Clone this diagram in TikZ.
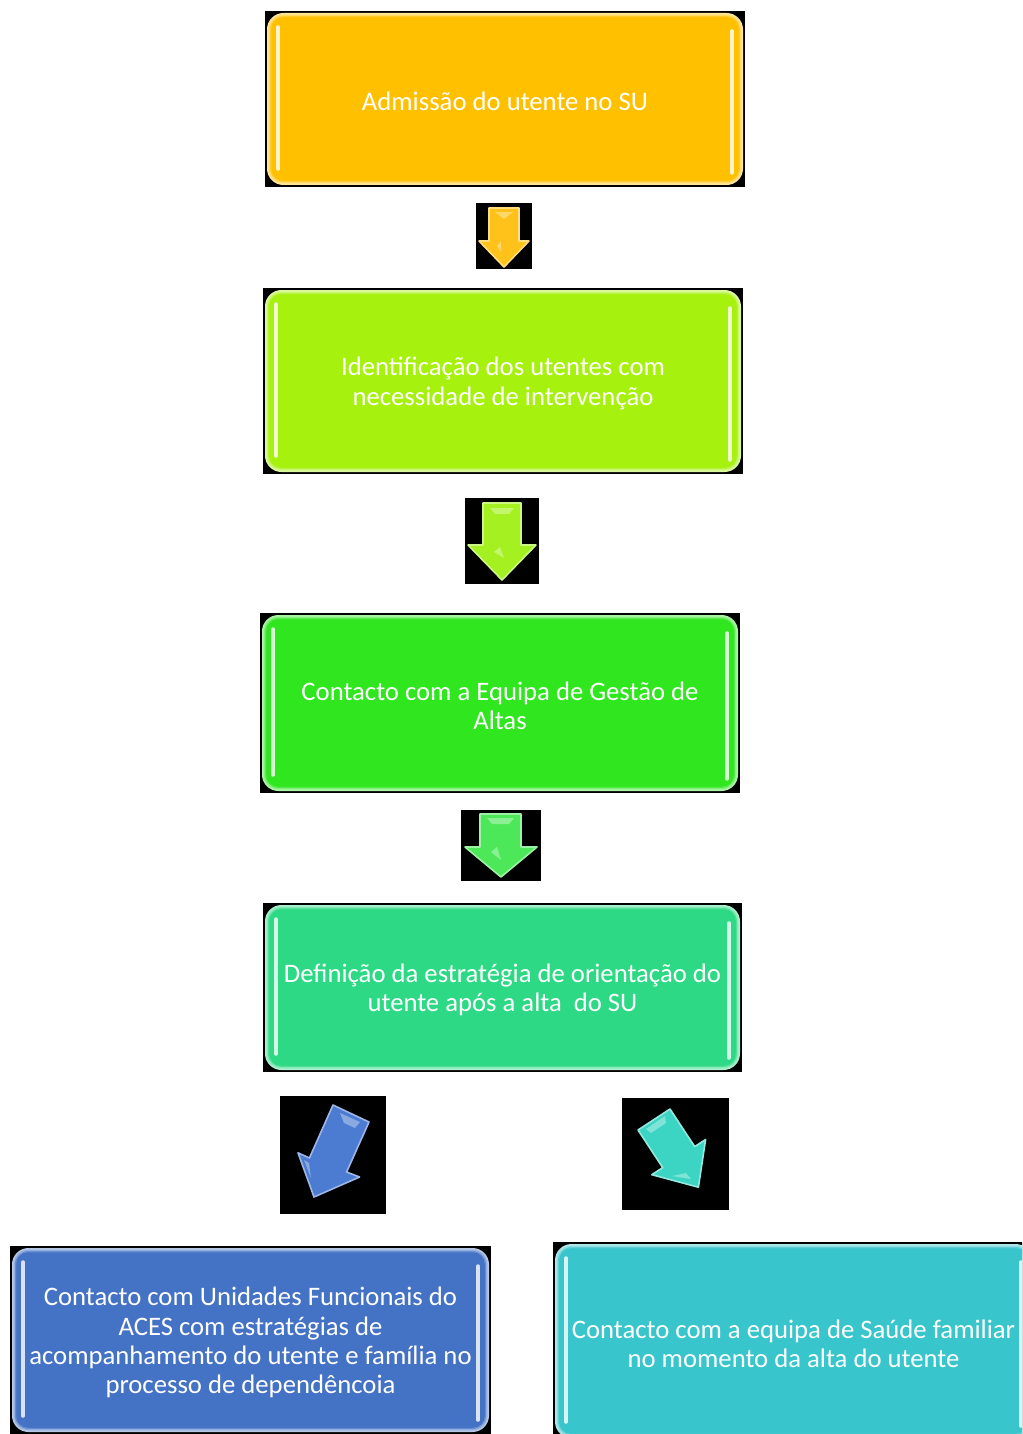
\documentclass[tikz,border=0pt]{standalone}
\usepackage{fontspec}
\setmainfont{Carlito}
\usetikzlibrary{calc}
\definecolor{cOne}{HTML}{FFC000}
\definecolor{cTwo}{HTML}{A6F10E}
\definecolor{cThree}{HTML}{2FE61F}
\definecolor{cFour}{HTML}{2DD984}
\definecolor{cFive}{HTML}{4472C4}
\definecolor{cSix}{HTML}{38C5CC}
\definecolor{aOne}{HTML}{FFC21A}
\definecolor{aTwo}{HTML}{A4F020}
\definecolor{aThree}{HTML}{4DE85A}
\definecolor{aFour}{HTML}{4C7BD2}
\definecolor{aFive}{HTML}{3CD5C3}
\tikzset{
  flowbox/.style={rounded corners=15bp, line width=3bp, inner sep=0pt},
  boxtext/.style={text=white, font=\fontsize{26.8}{29.3}\selectfont, align=center, inner sep=0pt},
  hiline/.style={line width=3.5bp, line cap=round, opacity=0.95},
  arrowbody/.style={line width=1.6bp, line join=round},
  shine/.style={white, opacity=0.35},
}
\newcommand\flowbox[7]{%
  \fill[black] (#2,#3) rectangle (#4,#5);
  \node[flowbox, fill=#6, draw=#6!40!white,
        minimum width={(#4-#2-7)*1bp}, minimum height={(#5-#3-7)*1bp}]
        (#1) at ($(#2,#3)!0.5!(#4,#5)$) {};
  \draw[rounded corners=13bp, line width=2.5bp, #6!70!white, opacity=0.6]
    ([xshift=3bp,yshift=-3bp]#1.north west) rectangle ([xshift=-3bp,yshift=3bp]#1.south east);
  \draw[hiline, #6!15!white] ([xshift=11bp,yshift=-14bp]#1.north west) -- ([xshift=11bp,yshift=16bp]#1.south west);
  \draw[hiline, #6!15!white] ([xshift=-11bp,yshift=-18bp]#1.north east) -- ([xshift=-11bp,yshift=12bp]#1.south east);
  \node[boxtext] (#1t) at ([yshift=-2.5bp]#1.center) {#7};
}
\begin{document}
\begin{tikzpicture}[x=1bp,y=-1bp]
\clip (0,0) rectangle (1022,1434);
\fill[white] (0,0) rectangle (1022,1434);

% boxes
\flowbox{b1}{265}{11}{745}{187}{cOne}{Admissão do utente no SU}
\flowbox{b2}{263}{288}{743}{474}{cTwo}{Identificação dos utentes com\\necessidade de intervenção}
\flowbox{b3}{260}{613}{740}{793}{cThree}{Contacto com a Equipa de Gestão de\\Altas}
\flowbox{b4}{263}{903}{742}{1072}{cFour}{Definição da estratégia de orientação do\\utente após a alta\ \ do SU}
\flowbox{b5}{10}{1246}{491}{1434}{cFive}{Contacto com Unidades Funcionais do\\ACES com estratégias de\\acompanhamento do utente e família no\\processo de dependêncoia}
\flowbox{b6}{553}{1242}{1034}{1440}{cSix}{Contacto com a equipa de Saúde familiar\\no momento da alta do utente}

% arrow 1
\fill[black] (476,203) rectangle (532,269);
\draw[arrowbody, fill=aOne, draw=aOne!55!white]
  (489,208) -- (519,208) -- (519,241) -- (529,241) -- (504,267) -- (479,241) -- (489,241) -- cycle;
\fill[shine] (495,212) -- (513,212) -- (504,219) -- cycle;
\fill[shine] (497,246) -- (501,241) -- (501,252) -- cycle;

% arrow 2
\fill[black] (465,498) rectangle (539,584);
\draw[arrowbody, fill=aTwo, draw=aTwo!55!white]
  (483,503) -- (521,503) -- (521,545) -- (536,545) -- (502,580) -- (468,545) -- (483,545) -- cycle;
\fill[shine] (490,508) -- (514,508) -- (509,514) -- (495,514) -- cycle;
\fill[shine] (494,552) -- (500,547) -- (504,558) -- cycle;

% arrow 3
\fill[black] (461,810) rectangle (541,881);
\draw[arrowbody, fill=aThree, draw=aThree!55!white]
  (480,814) -- (521,814) -- (521,847) -- (537,847) -- (501,877) -- (465,847) -- (480,847) -- cycle;
\fill[shine] (487,818) -- (514,818) -- (509,824) -- (492,824) -- cycle;
\fill[shine] (491,852) -- (497,847) -- (501,860) -- cycle;

% arrow 4 (down-left)
\fill[black] (280,1096) rectangle (386,1214);
\draw[arrowbody, fill=aFour, draw=aFour!55!white]
  (333,1105) -- (369,1122) -- (346.6,1172) -- (359.6,1177) -- (314,1197) -- (298,1152.8) -- (309.4,1158) -- cycle;
\fill[shine] (340,1113) -- (360,1122) -- (355,1128) -- (344,1123) -- cycle;
\fill[shine] (304,1160) -- (309,1163) -- (311,1178) -- cycle;

% arrow 5 (down-right)
\fill[black] (622,1098) rectangle (729,1210);
\draw[arrowbody, fill=aFive, draw=aFive!55!white]
  (638,1130) -- (670,1109) -- (694.7,1146.6) -- (705.6,1139.5) -- (698.4,1187.2) -- (651.8,1174.7) -- (662.7,1167.6) -- cycle;
\fill[shine] (646,1129) -- (665,1116) -- (666,1123) -- (651,1133) -- cycle;
\fill[shine] (672,1176) -- (686,1173) -- (691,1179) -- cycle;
\end{tikzpicture}
\end{document}
